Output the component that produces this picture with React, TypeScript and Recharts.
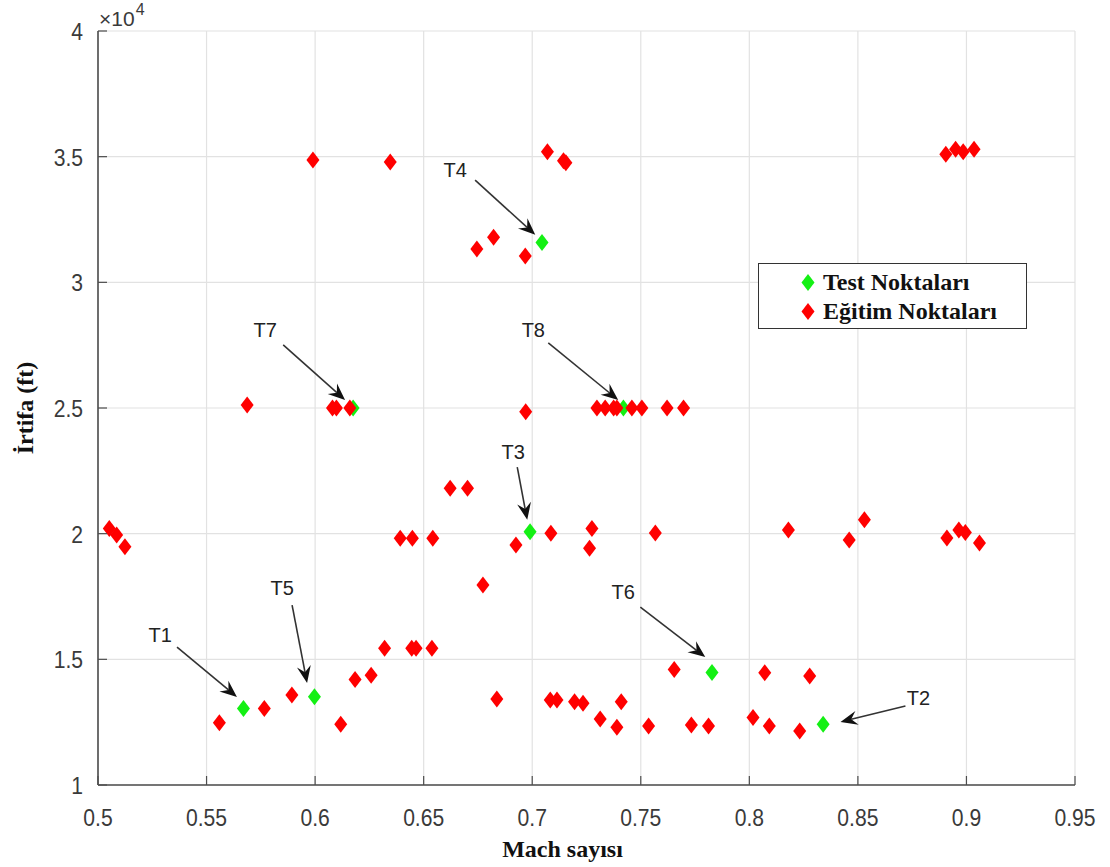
import React from 'react';
import {
  ScatterChart,
  Scatter,
  XAxis,
  YAxis,
  CartesianGrid,
  Legend,
  ReferenceLine,
  ReferenceDot,
  Label,
} from 'recharts';

// Test noktalari T1..T8 (Mach, irtifa ft)
const testMach = [0.567, 0.834, 0.699, 0.7045, 0.5997, 0.7828, 0.6175, 0.742];
const testAlt = [13040, 12420, 20080, 31580, 13510, 14480, 25000, 25000];

// Egitim noktalari
const trainMach = [
  0.599, 0.6346, 0.707, 0.7144, 0.7155, 0.8905, 0.895, 0.8985, 0.9035,
  0.6745, 0.6822, 0.6968,
  0.5687, 0.608, 0.6098, 0.616, 0.697, 0.7298, 0.7336, 0.7375, 0.739, 0.7459, 0.7505, 0.7621, 0.7697,
  0.6622, 0.6702,
  0.5052, 0.5086, 0.5124, 0.6392, 0.6448, 0.6542, 0.6925, 0.7086, 0.7275, 0.7264, 0.7567, 0.818,
  0.846, 0.853, 0.891, 0.8965, 0.8995, 0.906,
  0.6773,
  0.632, 0.6445, 0.6465, 0.6538,
  0.5559, 0.5766, 0.5893, 0.6118, 0.6184, 0.6258,
  0.6837, 0.7083, 0.7114, 0.7195, 0.7234, 0.741, 0.7313, 0.739, 0.7536, 0.7654, 0.7733, 0.7812,
  0.8017, 0.8092, 0.8071, 0.8278, 0.8232,
];
const trainAlt = [
  34870, 34790, 35200, 34840, 34760, 35100, 35300, 35200, 35300,
  31330, 31790, 31050,
  25120, 25000, 25000, 25000, 24850, 25000, 25000, 25000, 25000, 25000, 25000, 25000, 25000,
  21810, 21810,
  20210, 19950, 19480, 19820, 19820, 19820, 19550, 20020, 20210, 19420, 20030, 20150,
  19750, 20550, 19830, 20150, 20050, 19630,
  17960,
  15440, 15440, 15440, 15440,
  12480, 13040, 13580, 12420, 14200, 14370,
  13420, 13380, 13380, 13310, 13250, 13310, 12630, 12300, 12350, 14600, 12390, 12350,
  12690, 12350, 14470, 14340, 12150,
];

const seriesNames = ['Test Noktaları', 'Eğitim Noktaları'];
const machTicks = [0.5, 0.55, 0.6, 0.65, 0.7, 0.75, 0.8, 0.85, 0.9, 0.95];
const altTicks = [10000, 15000, 20000, 25000, 30000, 35000, 40000];

// Ok etiketleri: yazi konumu, okun baslangici ve ucu (veri koordinatlari)
const annLabels = ['T1', 'T2', 'T3', 'T4', 'T5', 'T6', 'T7', 'T8'];
const annText = [
  [0.5286, 15970], [0.8779, 13460], [0.6912, 23250], [0.6645, 34470],
  [0.5848, 17840], [0.7419, 17680], [0.577, 28110], [0.7005, 28110],
];
const annFrom = [
  [0.5364, 15490], [0.8719, 13140], [0.6931, 22650], [0.6737, 34070],
  [0.5894, 17160], [0.7498, 17080], [0.5853, 27510], [0.7074, 27590],
];
const annTo = [
  [0.564, 13500], [0.842, 12510], [0.6977, 20550], [0.7014, 31890],
  [0.5963, 14060], [0.7797, 15090], [0.6138, 25320], [0.7396, 25320],
];

const testData = testMach.map((m, i) => ({ mach: m, alt: testAlt[i] }));
const trainData = trainMach.map((m, i) => ({ mach: m, alt: trainAlt[i] }));

const SANS = '"Liberation Sans", Arial, sans-serif';
const SERIF = '"Liberation Serif", "Times New Roman", serif';
const TICK_COLOR = '#3a3a3a';

const Diamond = (props: any) => {
  const { cx, cy, fill } = props;
  if (cx == null || cy == null) return null;
  const w = 6.5;
  const h = 8.5;
  return (
    <polygon
      points={`${cx},${cy - h} ${cx + w},${cy} ${cx},${cy + h} ${cx - w},${cy}`}
      fill={fill}
    />
  );
};

const Arrow = (props: any) => {
  const { x1, y1, x2, y2 } = props;
  const dx = x2 - x1;
  const dy = y2 - y1;
  const len = Math.hypot(dx, dy) || 1;
  const ux = dx / len;
  const uy = dy / len;
  const px = -uy;
  const py = ux;
  const L = 17;
  const W = 7;
  const back = 11;
  const bx = x2 - ux * L;
  const by = y2 - uy * L;
  const nx = x2 - ux * back;
  const ny = y2 - uy * back;
  return (
    <g>
      <line x1={x1} y1={y1} x2={nx} y2={ny} stroke="#333" strokeWidth={1.6} />
      <polygon
        points={`${x2},${y2} ${bx + px * W},${by + py * W} ${nx},${ny} ${bx - px * W},${by - py * W}`}
        fill="#111"
      />
    </g>
  );
};

const fmtMach = (v: number) => String(Number(v.toFixed(2)));
const fmtAlt = (v: number) => String(Number((v / 10000).toFixed(2)));

const XTick = (props: any) => {
  const { x, y, payload } = props;
  return (
    <g>
      <line x1={x} y1={y} x2={x} y2={y - 9} stroke="#4d4d4d" strokeWidth={1.2} />
      <text
        transform={`translate(${x}, ${y + 41}) scale(0.88, 1)`}
        textAnchor="middle"
        fontSize={24}
        fontFamily={SANS}
        fill={TICK_COLOR}
      >
        {fmtMach(payload.value)}
      </text>
    </g>
  );
};

const YTick = (props: any) => {
  const { x, y, payload } = props;
  return (
    <g>
      <line x1={x} y1={y} x2={x} y2={y} stroke="#4d4d4d" />
      <line x1={x} y1={y} x2={x + 9} y2={y} stroke="#4d4d4d" strokeWidth={1.2} />
      <text
        transform={`translate(${x - 15}, ${y + 9}) scale(0.88, 1)`}
        textAnchor="end"
        fontSize={24}
        fontFamily={SANS}
        fill={TICK_COLOR}
      >
        {fmtAlt(payload.value)}
      </text>
    </g>
  );
};

const LegendBox = (props: any) => {
  const items = [...(props.payload || [])].sort(
    (a: any, b: any) => seriesNames.indexOf(a.value) - seriesNames.indexOf(b.value),
  );
  return (
    <div
      style={{
        width: 269,
        height: 66,
        boxSizing: 'border-box',
        border: '1.5px solid #333',
        background: '#fff',
        paddingTop: 4,
      }}
    >
      {items.map((it: any) => (
        <div key={it.value} style={{ display: 'flex', alignItems: 'center', height: 29 }}>
          <svg width={64} height={29} style={{ flex: 'none' }}>
            <polygon points="49,6 55.5,14.5 49,23 42.5,14.5" fill={it.color} />
          </svg>
          <span
            style={{
              fontFamily: SERIF,
              fontWeight: 'bold',
              fontSize: 24,
              color: '#111',
              lineHeight: '29px',
              whiteSpace: 'nowrap',
            }}
          >
            {it.value}
          </span>
        </div>
      ))}
    </div>
  );
};

export default function App() {
  return (
    <div style={{ position: 'absolute', left: 0, top: 0, width: 1110, height: 867, background: '#fff' }}>
      <ScatterChart width={1110} height={867} margin={{ top: 31, right: 35, left: 0, bottom: 0 }}>
        <CartesianGrid stroke="#e2e2e2" strokeWidth={1.2} />
        <XAxis
          type="number"
          dataKey="mach"
          domain={[0.5, 0.95]}
          ticks={machTicks}
          height={82}
          tickSize={0}
          tickMargin={0}
          tickLine={false}
          tick={<XTick />}
          interval={0}
          axisLine={{ stroke: '#4d4d4d', strokeWidth: 1.6 }}
        >
          <Label
            content={(p: any) => {
              const vb = p.viewBox;
              return (
                <text
                  x={vb.x + vb.width / 2 - 24}
                  y={vb.y + 72}
                  textAnchor="middle"
                  fontSize={24}
                  fontWeight="bold"
                  fontFamily={SERIF}
                  fill="#111"
                >
                  Mach sayısı
                </text>
              );
            }}
          />
        </XAxis>
        <YAxis
          type="number"
          dataKey="alt"
          domain={[10000, 40000]}
          ticks={altTicks}
          width={98}
          tickSize={0}
          tickMargin={0}
          tickLine={false}
          tick={<YTick />}
          interval={0}
          axisLine={{ stroke: '#4d4d4d', strokeWidth: 1.6 }}
        >
          <Label
            content={(p: any) => {
              const vb = p.viewBox;
              const cx = vb.x + 33;
              const cy = vb.y + vb.height / 2;
              return (
                <text
                  x={cx}
                  y={cy}
                  transform={`rotate(-90, ${cx}, ${cy})`}
                  textAnchor="middle"
                  fontSize={24}
                  fontWeight="bold"
                  fontFamily={SERIF}
                  fill="#111"
                >
                  İrtifa (ft)
                </text>
              );
            }}
          />
          <Label
            content={(p: any) => {
              const vb = p.viewBox;
              return (
                <text x={vb.x + vb.width + 1} y={vb.y - 5} fontSize={21} fontFamily={SANS} fill={TICK_COLOR}>
                  ×10
                  <tspan dx={1} dy={-11} fontSize={16}>4</tspan>
                </text>
              );
            }}
          />
        </YAxis>
        <Legend
          layout="horizontal"
          verticalAlign="middle"
          align="center"
          content={<LegendBox />}
          wrapperStyle={{ left: 758, top: 263, width: 269, height: 66 }}
        />
        <Scatter
          name={seriesNames[0]}
          data={testData}
          fill="#14f014"
          shape={<Diamond />}
          isAnimationActive={false}
        />
        <Scatter
          name={seriesNames[1]}
          data={trainData}
          fill="#ff0000"
          shape={<Diamond />}
          isAnimationActive={false}
        />
        {annLabels.map((lab, i) => (
          <ReferenceLine
            key={`a-${lab}`}
            segment={[
              { x: annFrom[i][0], y: annFrom[i][1] },
              { x: annTo[i][0], y: annTo[i][1] },
            ]}
            shape={<Arrow />}
          />
        ))}
        {annLabels.map((lab, i) => (
          <ReferenceDot
            key={`t-${lab}`}
            x={annText[i][0]}
            y={annText[i][1]}
            r={0}
            shape={(p: any) => (
              <text
                x={p.cx}
                y={p.cy + 7}
                textAnchor="middle"
                fontSize={20}
                fontFamily={SANS}
                fill="#222"
              >
                {lab}
              </text>
            )}
          />
        ))}
      </ScatterChart>
    </div>
  );
}
